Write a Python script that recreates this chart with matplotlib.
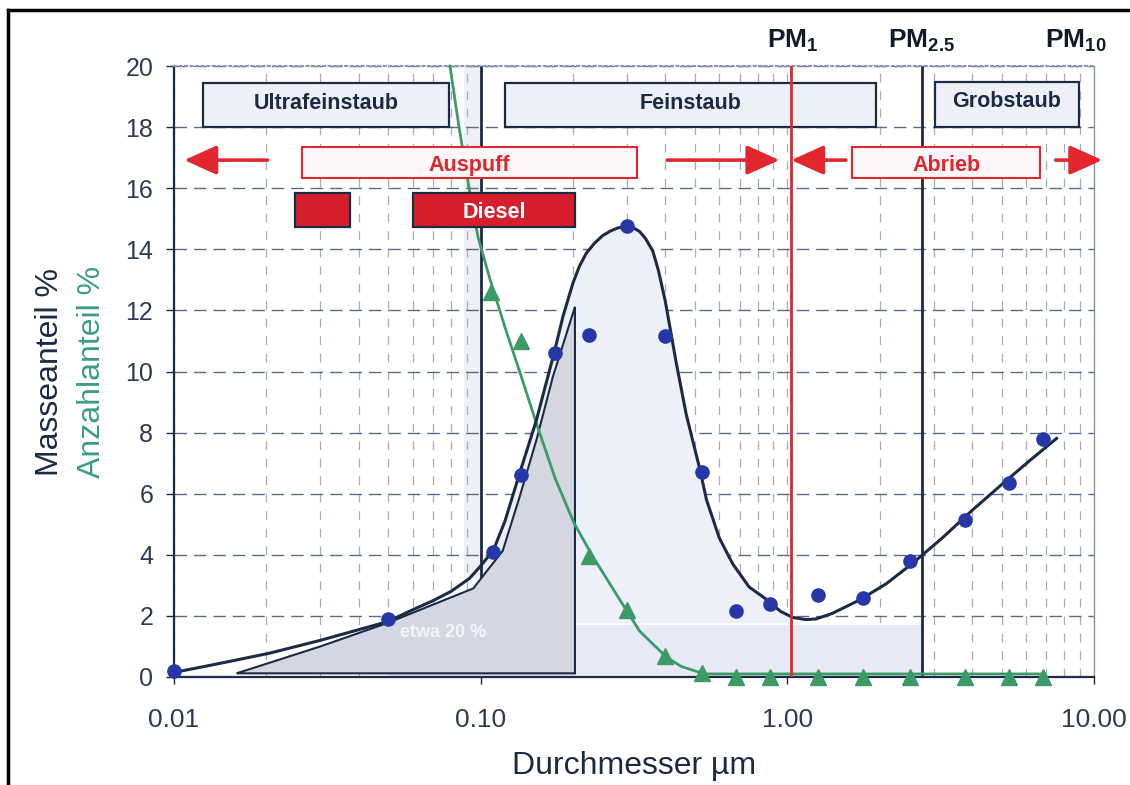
import matplotlib
matplotlib.use('Agg')
import matplotlib.pyplot as plt
import matplotlib.transforms as mtransforms
from matplotlib.patches import Rectangle, Polygon
from matplotlib.lines import Line2D

plt.rcParams['font.family'] = ['Liberation Sans', 'DejaVu Sans']
plt.rcParams['mathtext.fontset'] = 'custom'
plt.rcParams['mathtext.rm'] = 'Liberation Sans'
plt.rcParams['mathtext.bf'] = 'Liberation Sans:bold'

# ---------------- data ----------------
# measured mass fraction (blue dots)
mass_pts_x = [0.01, 0.05, 0.11, 0.135, 0.175, 0.225, 0.30, 0.40, 0.525, 0.68, 0.88, 1.26, 1.77, 2.51, 3.79, 5.29, 6.80]
mass_pts_y = [0.2, 1.9, 4.1, 6.6, 10.6, 11.2, 14.75, 11.15, 6.7, 2.15, 2.4, 2.7, 2.6, 3.8, 5.15, 6.35, 7.8]

# fitted mass fraction curve (dark line)
mass_curve_x = [0.01, 0.0125, 0.015, 0.0205, 0.03, 0.0435, 0.05, 0.06, 0.07, 0.08, 0.092, 0.0995,
                0.11, 0.12, 0.134, 0.152, 0.174, 0.1855, 0.20, 0.21, 0.221, 0.235, 0.25, 0.265,
                0.28, 0.2985, 0.315, 0.33, 0.345, 0.364, 0.38, 0.40, 0.434, 0.468, 0.5185, 0.545,
                0.60, 0.664, 0.75, 0.852, 0.95, 1.04, 1.15, 1.24, 1.4, 1.72, 2.1, 2.56, 3.2, 4.0,
                5.0, 6.2, 7.55]
mass_curve_y = [0.15, 0.34, 0.5, 0.78, 1.2, 1.65, 1.82, 2.2, 2.5, 2.8, 3.23, 3.61,
                4.15, 5.1, 6.67, 8.41, 10.65, 11.8, 12.9, 13.45, 13.87, 14.2, 14.45, 14.6,
                14.7, 14.74, 14.7, 14.58, 14.35, 13.95, 13.3, 12.3, 10.3, 8.6, 6.8, 5.8,
                4.55, 3.7, 2.95, 2.55, 2.15, 1.95, 1.88, 1.9, 2.08, 2.52, 3.05, 3.72, 4.55, 5.45,
                6.3, 7.1, 7.81]

# measured number fraction (green triangles)
num_pts_x = [0.108, 0.135, 0.225, 0.30, 0.40, 0.525, 0.68, 0.88, 1.26, 1.77, 2.51, 3.79, 5.29, 6.80]
num_pts_y = [12.6, 11.0, 3.95, 2.2, 0.7, 0.12, 0.0, 0.0, 0.0, 0.0, 0.0, 0.0, 0.0, 0.0]

# fitted number fraction curve (green line)
num_curve_x = [0.0794, 0.085, 0.0923, 0.098, 0.1074, 0.12, 0.134, 0.152, 0.175, 0.2015, 0.2326,
               0.2846, 0.33, 0.4035, 0.45, 0.5175, 0.55, 6.8]
num_curve_y = [20.0, 18.0, 15.83, 14.4, 13.0, 11.45, 10.0, 8.3, 6.5, 5.04, 3.93,
               2.52, 1.5, 0.65, 0.35, 0.15, 0.1, 0.1]

# diesel distribution (grey area)
diesel_x = [0.016, 0.03, 0.0494, 0.0946, 0.118, 0.134, 0.152, 0.172, 0.203, 0.203]
diesel_y = [0.12, 1.0, 1.76, 2.9, 4.13, 5.9, 7.76, 9.83, 12.12, 0.12]

xtick_vals = [0.01, 0.1, 1, 10]
xtick_labels = ['0.01', '0.10', '1.00', '10.00']
ytick_vals = list(range(0, 21, 2))

NAVY = '#1c2b45'
BLUE = '#2637a8'
GREEN = '#3b9a66'
RED = '#e3262e'
TICKC = '#2f3b55'

W, H = 1130, 785
fig = plt.figure(figsize=(W / 100, H / 100), dpi=100)
ax = fig.add_axes([174 / W, 1 - 677 / H, 920 / W, 611 / H])
ax.set_xscale('log')
ax.set_xlim(0.01, 10)
ax.set_ylim(0, 20)

# grid
minor = [k * 10.0 ** d for d in (-2, -1, 0) for k in range(2, 10)]
ax.set_xticks(xtick_vals, labels=xtick_labels)
ax.set_xticks(minor, minor=True)
ax.set_yticks(ytick_vals)
ax.tick_params(axis='x', which='minor', length=0, labelbottom=False)
ax.grid(True, which='both', axis='x', color='#a3adc2', lw=0.9, ls=(0, (7, 7)), zorder=0)
ax.grid(True, which='major', axis='y', color='#5a6a8a', lw=1.0, ls=(0, (9, 5)), zorder=0)
ax.set_axisbelow(True)

ax.tick_params(axis='x', which='major', direction='out', length=5, width=1, color=NAVY,
               labelsize=19, labelcolor=TICKC, pad=17)
ax.tick_params(axis='y', direction='out', length=6, width=1, color=NAVY,
               labelsize=18, labelcolor=TICKC, pad=9)

for s in ('left', 'bottom'):
    ax.spines[s].set_color(NAVY)
    ax.spines[s].set_linewidth(1.6)
ax.spines['top'].set_color('#8a96b0')
ax.spines['top'].set_linestyle(':')
ax.spines['top'].set_linewidth(1.5)
ax.spines['right'].set_color('#8a96b0')
ax.spines['right'].set_linewidth(1.0)

# light shadings
ax.add_patch(Rectangle((0.088, 3.2), 0.1 - 0.088, 20 - 3.2, facecolor='#eef0f5', edgecolor='none', zorder=0.5))
sel = [i for i, x in enumerate(mass_curve_x) if 0.099 <= x <= 1.04]
ax.fill_between([mass_curve_x[i] for i in sel], 0, [mass_curve_y[i] for i in sel],
                color='#eef0f8', lw=0, zorder=0.6)
ax.add_patch(Rectangle((0.05, 0), 2.75 - 0.05, 1.75, facecolor='#e7eaf4', edgecolor='none', zorder=0.7))
ax.plot([0.05, 2.75], [1.75, 1.75], color='white', lw=1.2, zorder=0.8)

# diesel polygon
ax.add_patch(Polygon(list(zip(diesel_x, diesel_y)), closed=True, facecolor='#d4d7e1',
                     edgecolor=NAVY, lw=1.5, zorder=2))
ax.text(0.0755, 1.45, 'etwa 20 %', color='#f4f5fa', fontsize=13, fontweight='bold',
        ha='center', va='center', zorder=2.5)

# vertical marker lines
ax.plot([0.1, 0.1], [3.2, 20], color=NAVY, lw=2, zorder=1.5)
ax.plot([2.75, 2.75], [0, 20], color=NAVY, lw=2, zorder=1.5)

# curves
ax.plot(num_curve_x, num_curve_y, color=GREEN, lw=2, zorder=3, clip_on=False)
ax.plot(mass_curve_x, mass_curve_y, color=NAVY, lw=2.2, zorder=4, solid_joinstyle='round')
ax.plot(num_pts_x, num_pts_y, ls='none', marker='^', ms=12, color=GREEN, mec=GREEN,
        zorder=5, clip_on=False)
ax.plot(mass_pts_x, mass_pts_y, ls='none', marker='o', ms=9.5, color=BLUE, mec=BLUE,
        zorder=6, clip_on=False)

# labelled boxes
def box(x0, x1, y0, y1, text, fc, ec, tc, lw=1.6, z=7, fs=15.5, dy=0.0):
    ax.add_patch(Rectangle((x0, y0), x1 - x0, y1 - y0, facecolor=fc, edgecolor=ec, lw=lw, zorder=z))
    if text:
        xc = (x0 * x1) ** 0.5
        ax.text(xc, (y0 + y1) / 2 + dy, text, color=tc, fontsize=fs, fontweight='bold',
                ha='center', va='center_baseline', zorder=z + 0.1)

box(0.01243, 0.0787, 18.0, 19.44, 'Ultrafeinstaub', '#eef0f7', NAVY, NAVY, dy=0.15)
box(0.1197, 1.95, 18.0, 19.44, 'Feinstaub', '#eef0f7', NAVY, NAVY, dy=0.15)
box(3.03, 8.94, 18.0, 19.47, 'Grobstaub', '#eef0f7', NAVY, NAVY, dy=0.2)
box(0.0261, 0.324, 16.33, 17.35, 'Auspuff', '#fbf7f8', RED, RED, lw=1.5)
box(1.63, 6.67, 16.33, 17.35, 'Abrieb', '#fbf7f8', RED, RED, lw=1.5)
box(0.0248, 0.0374, 14.73, 15.84, '', '#d71f2c', NAVY, 'white')
box(0.060, 0.2037, 14.73, 15.84, 'Diesel', '#d71f2c', NAVY, 'white')

# PM1 line above boxes
ax.plot([1.03, 1.03], [0, 20], color=RED, lw=2, zorder=8)

# arrows
arrow_kw = dict(arrowstyle='-|>,head_length=1.0,head_width=0.45', color=RED, lw=2.6,
                mutation_scale=20, shrinkA=0, shrinkB=0)
for tail, tip in [(0.0202, 0.0108), (0.406, 0.942), (1.553, 1.03), (7.5, 10.64)]:
    ax.annotate('', xy=(tip, 16.92), xytext=(tail, 16.92), arrowprops=arrow_kw,
                annotation_clip=False, zorder=9)

# PM labels
trans = mtransforms.blended_transform_factory(ax.transData, fig.transFigure)
for xv, lab in [(1.04, r'$\mathbf{PM}_{\mathbf{1}}$'), (2.74, r'$\mathbf{PM}_{\mathbf{2.5}}$'),
                (8.7, r'$\mathbf{PM}_{\mathbf{10}}$')]:
    fig.text(xv, 1 - 47 / H, lab, transform=trans, ha='center', va='baseline',
             fontsize=19, color='#111a2a')

# axis labels
fig.text(634 / W, 1 - 766 / H, 'Durchmesser µm', ha='center', va='center', fontsize=23, color=NAVY)
fig.text(50 / W, 1 - 372 / H, 'Masseanteil %', ha='center', va='center', rotation=90,
         fontsize=23, color=NAVY)
fig.text(92 / W, 1 - 372 / H, 'Anzahlanteil %', ha='center', va='center', rotation=90,
         fontsize=23, color='#3aa07a')

# frame around figure (top and left)
fig.add_artist(Line2D([8 / W, 1], [1 - 10 / H, 1 - 10 / H], color='black', lw=2.5,
                      transform=fig.transFigure))
fig.add_artist(Line2D([8 / W, 8 / W], [0, 1 - 10 / H], color='black', lw=2.5,
                      transform=fig.transFigure))

fig.savefig('out.png', dpi=100, facecolor='white')
